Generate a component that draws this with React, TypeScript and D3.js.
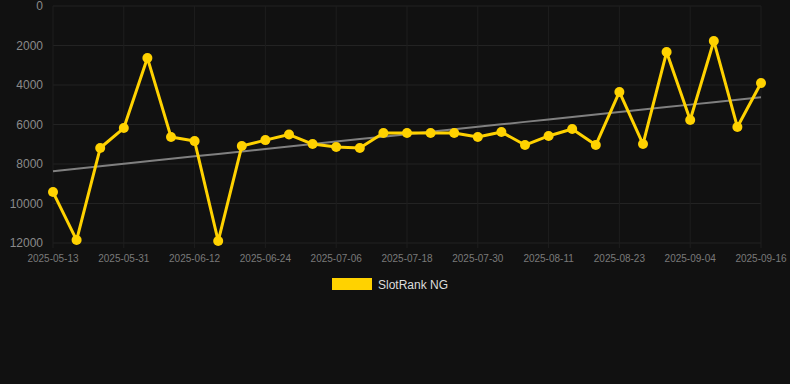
import React from "react";
import * as d3 from "d3";

const dates = [
  "2025-05-13", "2025-05-19", "2025-05-25", "2025-05-31", "2025-06-04", "2025-06-08",
  "2025-06-12", "2025-06-16", "2025-06-20", "2025-06-24", "2025-06-28", "2025-07-02",
  "2025-07-06", "2025-07-10", "2025-07-14", "2025-07-18", "2025-07-22", "2025-07-26",
  "2025-07-30", "2025-08-03", "2025-08-07", "2025-08-11", "2025-08-15", "2025-08-19",
  "2025-08-23", "2025-08-27", "2025-08-31", "2025-09-04", "2025-09-08", "2025-09-12",
  "2025-09-16",
];

const ranks = [
  9420, 11850, 7190, 6180, 2630, 6630, 6840, 11900, 7090, 6790, 6510, 6990,
  7140, 7190, 6430, 6430, 6430, 6430, 6630, 6380, 7040, 6580, 6230, 7040,
  4350, 6990, 2330, 5770, 1770, 6130, 3900,
];

const yTicks = [0, 2000, 4000, 6000, 8000, 10000, 12000];
const seriesName = "SlotRank NG";

export default function App() {
  const W = 790;
  const H = 384;
  const left = 53;
  const right = 761;
  const top = 6;
  const bottom = 243;

  const x = d3.scalePoint<string>().domain(dates).range([left, right]);
  const y = d3.scaleLinear().domain([0, 12000]).range([top, bottom]);

  const labelDates = dates.filter((_, i) => i % 3 === 0);

  // linear regression trend
  const n = ranks.length;
  const idx = d3.range(n);
  const mx = d3.mean(idx)!;
  const my = d3.mean(ranks)!;
  const sxy = d3.sum(idx, (i) => (i - mx) * (ranks[i] - my));
  const sxx = d3.sum(idx, (i) => (i - mx) * (i - mx));
  const slope = sxy / sxx;
  const intercept = my - slope * mx;
  const trend = idx.map((i) => intercept + slope * i);

  const line = d3
    .line<number>()
    .x((_, i) => x(dates[i])!)
    .y((d) => y(d));

  return (
    <svg
      width={W}
      height={H}
      style={{ position: "absolute", left: 0, top: 0, background: "#111111" }}
      fontFamily="Liberation Sans, Arial, sans-serif"
    >
      <rect x={0} y={0} width={W} height={H} fill="#111111" />
      {yTicks.map((t) => (
        <line key={"gy" + t} x1={left} x2={right} y1={y(t)} y2={y(t)} stroke="#232323" strokeWidth={1} />
      ))}
      {labelDates.map((d) => (
        <line key={"gx" + d} x1={x(d)} x2={x(d)} y1={top} y2={bottom + 5} stroke="#1e1e1e" strokeWidth={1} />
      ))}
      {yTicks.map((t) => (
        <text key={"ty" + t} x={43} y={y(t) + 4} textAnchor="end" fontSize={12} fill="#8a8a8a">
          {t}
        </text>
      ))}
      {labelDates.map((d) => (
        <text key={"tx" + d} x={x(d)} y={262} textAnchor="middle" fontSize={10} fill="#7a7a7a">
          {d}
        </text>
      ))}
      <path d={line(trend) || ""} fill="none" stroke="#808080" strokeWidth={2} />
      <path d={line(ranks) || ""} fill="none" stroke="#FFD200" strokeWidth={3} strokeLinejoin="round" />
      {ranks.map((v, i) => (
        <circle key={"p" + i} cx={x(dates[i])} cy={y(v)} r={5} fill="#FFD200" />
      ))}
      <rect x={332} y={278} width={40} height={12} fill="#FFD200" />
      <text x={378} y={288.5} fontSize={12} fill="#dddddd">
        {seriesName}
      </text>
    </svg>
  );
}
